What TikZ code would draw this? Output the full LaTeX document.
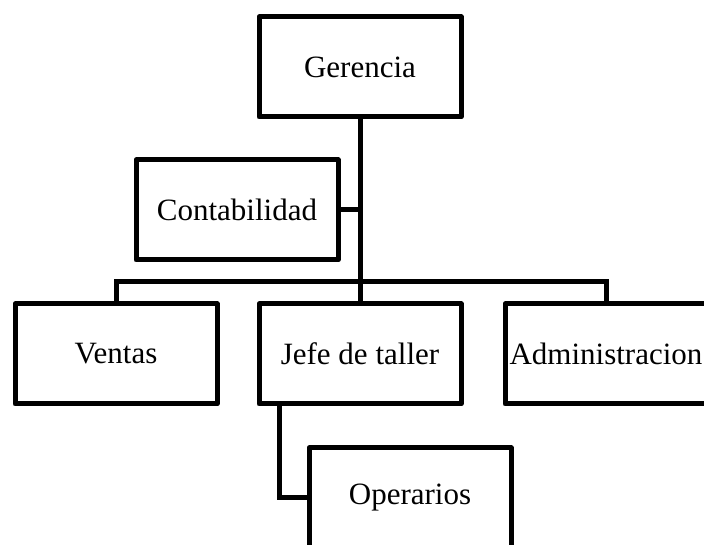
\documentclass[tikz,border=0pt]{standalone}
\usepackage{fontspec}
\setmainfont{Liberation Serif}
\usetikzlibrary{positioning}

\begin{document}
\begin{tikzpicture}[unidad/.style={draw,line width=3.75pt,line join=round,minimum width=151.5pt,minimum height=75pt,inner sep=0pt,outer sep=0pt,font=\fontsize{23.25}{28}\selectfont},linea/.style={line width=3.75pt}] %
    \clip (0,0) rectangle (528pt,-408.75pt) ; %
    \fill[white] (0,0) rectangle (528pt,-408.75pt) ; %
    \node[unidad] (gerencia) at (270pt,-50.25pt) {Gerencia} ; %
    \node[unidad, below=32.25pt of gerencia, xshift=-92.25pt] (contab) {Contabilidad} ; %
    \node[unidad, below=140.25pt of gerencia] (jefe) {Jefe de taller} ; %
    \node[unidad, left=31.5pt of jefe] (ventas) {Ventas} ; %
    \node[unidad, right=33pt of jefe] (admin) {Administracion} ; %
    \node[unidad, below=33pt of jefe, xshift=37.5pt] (operarios) {Operarios};
    \coordinate[above=16.5pt of jefe.north] (bus);
    \draw[linea] (gerencia)--(jefe) ; %
    \draw[linea] (contab.east)--(contab.east -| gerencia.south);
    \draw[linea] (ventas.north) |- (bus) -| (admin.north);
    \draw[linea] ([xshift=15pt]jefe.south west) |- (operarios.west);
  \end{tikzpicture}
\end{document}
